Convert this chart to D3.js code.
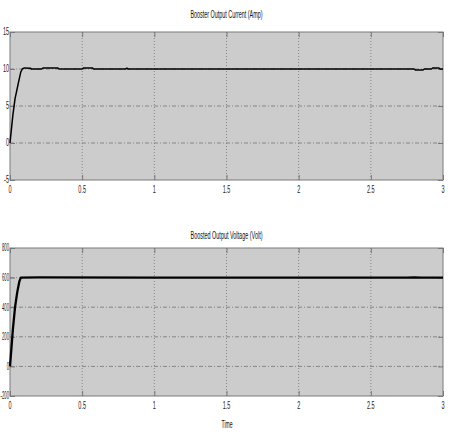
<!DOCTYPE html>
<html><head><meta charset="utf-8">
<script src="https://cdn.jsdelivr.net/npm/d3@7/dist/d3.min.js"></script>
<style>body{margin:0;background:#fff}svg{display:block}</style>
</head><body>
<script>
// ---- data ----
const xTicks = [0, 0.5, 1, 1.5, 2, 2.5, 3];
const xTickLabels = ["0", "0.5", "1", "1.5", "2", "2.5", "3"];
const currentTicks = [-5, 0, 5, 10, 15];
const voltageTicks = [-200, 0, 200, 400, 600, 800];
const currentTitle = "Booster Output Current (Amp)";
const voltageTitle = "Boosted Output Voltage (Volt)";
const xLabel = "Time";

const currentTime  = [0, 0.02, 0.035, 0.06, 0.075, 0.085, 0.1, 0.14, 0.15, 0.22, 0.23, 0.33, 0.34, 0.5, 0.51, 0.57, 0.58, 0.8, 0.81, 0.82, 2.8, 2.81, 2.86, 2.87, 2.92, 2.93, 2.97, 2.98, 3];
const currentValue = [0, 3.8, 6.0, 8.3, 9.6, 10, 10.15, 10.1, 10, 10, 10.15, 10.15, 10, 10, 10.15, 10.15, 10, 10, 10.1, 10, 10, 9.85, 9.85, 10, 10, 10.15, 10.15, 10, 10];
const voltageTime  = [0, 0.02, 0.035, 0.05, 0.065, 0.075, 0.2, 1.0, 2.0, 2.75, 2.8, 2.85, 3];
const voltageValue = [0, 250, 400, 500, 575, 600, 601, 600, 600, 600, 602, 600, 600];

// ---- layout ----
const W = 457, H = 434;
const svg = d3.select("body").append("svg").attr("width", W).attr("height", H);
const font = "Liberation Sans, Arial, sans-serif";

function panel(top, bottom, ticks, yTickLabels, title, titleY, tx, ty, lw, labelY, yScaleX) {
  const x = d3.scaleLinear().domain([0, 3]).range([10, 443]);
  const y = d3.scaleLinear().domain([ticks[0], ticks[ticks.length - 1]]).range([bottom, top]);
  const g = svg.append("g");
  g.append("rect").attr("x", 10).attr("y", top).attr("width", 433).attr("height", bottom - top)
    .attr("fill", "#cccccc");
  // grid
  g.selectAll(".vg").data(xTicks.slice(1, -1)).join("line")
    .attr("x1", d => x(d)).attr("x2", d => x(d)).attr("y1", top).attr("y2", bottom)
    .attr("stroke", "#747474").attr("stroke-width", 0.8).attr("stroke-dasharray", "1,2");
  g.selectAll(".hg").data(ticks.slice(1, -1)).join("line")
    .attr("x1", 10).attr("x2", 443).attr("y1", d => y(d)).attr("y2", d => y(d))
    .attr("stroke", "#747474").attr("stroke-width", 0.8).attr("stroke-dasharray", "4,2,1,2");
  // ticks inside
  const xa = d3.axisBottom(x).tickValues(xTicks).tickSize(-5).tickFormat("");
  g.append("g").attr("transform", `translate(0,${bottom})`).call(xa)
    .call(s => { s.select(".domain").remove(); s.selectAll("line").attr("stroke", "#777"); });
  const xt = d3.axisTop(x).tickValues(xTicks).tickSize(-5).tickFormat("");
  g.append("g").attr("transform", `translate(0,${top})`).call(xt)
    .call(s => { s.select(".domain").remove(); s.selectAll("line").attr("stroke", "#777"); });
  const ya = d3.axisLeft(y).tickValues(ticks).tickSize(-5).tickFormat("");
  g.append("g").attr("transform", `translate(10,0)`).call(ya)
    .call(s => { s.select(".domain").remove(); s.selectAll("line").attr("stroke", "#777"); });
  const yr = d3.axisRight(y).tickValues(ticks).tickSize(-5).tickFormat("");
  g.append("g").attr("transform", `translate(443,0)`).call(yr)
    .call(s => { s.select(".domain").remove(); s.selectAll("line").attr("stroke", "#777"); });
  // frame
  g.append("rect").attr("x", 10).attr("y", top).attr("width", 433).attr("height", bottom - top)
    .attr("fill", "none").attr("stroke", "#7a7a7a").attr("stroke-width", 1);
  // line
  const data = tx.map((t, i) => [t, ty[i]]);
  g.append("path").datum(data)
    .attr("d", d3.line().x(d => x(d[0])).y(d => y(d[1])))
    .attr("fill", "none").attr("stroke", "#000").attr("stroke-width", lw)
    .attr("stroke-linejoin", "round");
  // y tick labels
  g.selectAll(".yl").data(ticks).join("text")
    .attr("transform", d => `translate(9,${y(d) + 3.3}) scale(${yScaleX},1)`)
    .attr("text-anchor", "end").attr("font-family", font).attr("font-size", 10)
    .attr("fill", "#222").text((d, i) => yTickLabels[i]);
  // x tick labels
  g.selectAll(".xl").data(xTicks).join("text")
    .attr("transform", d => `translate(${x(d)},${labelY}) scale(0.55,1)`)
    .attr("text-anchor", "middle").attr("font-family", font).attr("font-size", 10)
    .attr("fill", "#222").text((d, i) => xTickLabels[i]);
  // title
  g.append("text").attr("x", 226.5).attr("y", titleY).attr("text-anchor", "middle")
    .attr("font-family", font).attr("font-size", 10).attr("fill", "#111")
    .attr("textLength", 72).attr("lengthAdjust", "spacingAndGlyphs").text(title);
  return {x, y};
}

panel(32, 180, currentTicks, currentTicks.map(String), currentTitle, 18,
      currentTime, currentValue, 1.5, 193, 0.55);
panel(248, 396, voltageTicks, voltageTicks.map(String), voltageTitle, 239,
      voltageTime, voltageValue, 2.3, 409, 0.42);

svg.append("text").attr("x", 227).attr("y", 428).attr("text-anchor", "middle")
  .attr("font-family", font).attr("font-size", 10).attr("fill", "#111")
  .attr("textLength", 11).attr("lengthAdjust", "spacingAndGlyphs").text(xLabel);
</script>
</body></html>
